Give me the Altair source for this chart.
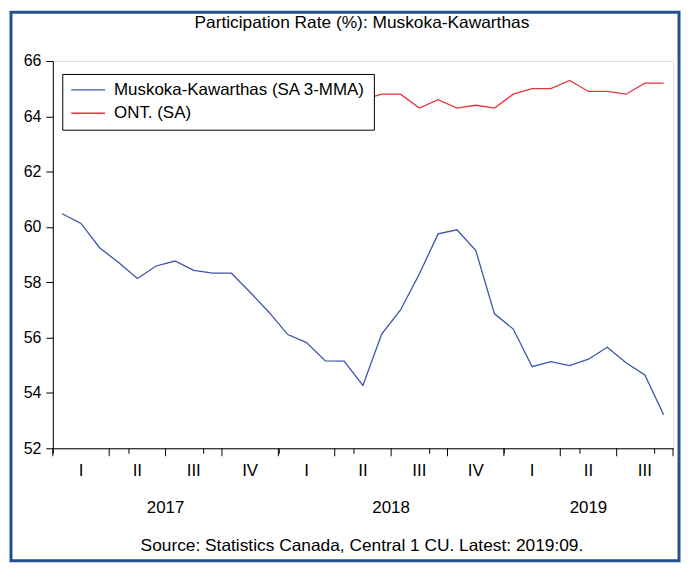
import altair as alt
import pandas as pd

# ---- data ----
months = [f"{y}-{m:02d}" for y in (2017, 2018, 2019) for m in range(1, 13)][:33]
muskoka = [60.48, 60.13, 59.24, 58.72, 58.14, 58.59, 58.77, 58.43, 58.33, 58.33,
           57.64, 56.92, 56.11, 55.82, 55.16, 55.15, 54.27, 56.13, 57.00, 58.30,
           59.75, 59.90, 59.16, 56.86, 56.31, 54.95, 55.13, 54.99, 55.22, 55.65,
           55.09, 54.65, 53.21]
ontario = [64.8, 64.7, 64.8, 64.6, 64.7, 64.6, 64.8, 64.7, 64.6, 64.7,
           64.7, 64.8, 64.6, 64.7, 64.6, 64.6, 64.6, 64.8, 64.8, 64.3,
           64.6, 64.3, 64.4, 64.3, 64.8, 65.0, 65.0, 65.3, 64.9, 64.9,
           64.8, 65.2, 65.2]
series_names = ["Muskoka-Kawarthas (SA 3-MMA)", "ONT. (SA)"]
series_colors = ["#3B55A8", "#E8343C"]
quarter_labels = ["I", "II", "III", "IV", "I", "II", "III", "IV", "I", "II", "III"]
year_labels = ["2017", "2018", "2019"]
year_centers = [6, 18, 28.5]
y_ticks = [52, 54, 56, 58, 60, 62, 64, 66]
title_text = "Participation Rate (%): Muskoka-Kawarthas"
source_text = "Source: Statistics Canada, Central 1 CU. Latest: 2019:09."

FONT = "Liberation Sans"
FS = 17
W, H = 623, 389
PAD = {"left": 45, "top": 52, "right": 10, "bottom": 117}

rows = []
for i, m in enumerate(months):
    rows.append({"month": m, "t": i + 0.5, "value": muskoka[i], "series": series_names[0]})
    rows.append({"month": m, "t": i + 0.5, "value": ontario[i], "series": series_names[1]})
df = pd.DataFrame(rows)

xscale = alt.Scale(domain=[0, len(months)], nice=False, zero=False)
yscale = alt.Scale(domain=[52, 66], nice=False, zero=False)

lines = alt.Chart(df).mark_line(strokeWidth=1.3).encode(
    x=alt.X("t:Q", scale=xscale,
            axis=alt.Axis(values=list(range(0, len(months) + 1)), labels=False, title=None,
                          tickSize=5, tickColor="black", domainColor="black", grid=False)),
    y=alt.Y("value:Q", scale=yscale,
            axis=alt.Axis(values=y_ticks, title=None, tickSize=7, tickColor="black",
                          domainColor="black", grid=False, labelFont=FONT, labelFontSize=16,
                          labelColor="black", labelPadding=5)),
    color=alt.Color("series:N",
                    scale=alt.Scale(domain=series_names, range=series_colors),
                    legend=alt.Legend(title=None, orient="none", legendX=9.5, legendY=13,
                                      symbolType="stroke", symbolSize=1156,
                                      symbolStrokeWidth=1.5, labelFont=FONT,
                                      labelFontSize=FS, labelColor="black",
                                      fillColor="white", strokeColor="black",
                                      padding=8, rowPadding=6.5, labelOffset=8,
                                      clipHeight=16, labelLimit=400)),
    order="t:Q",
)

q_df = pd.DataFrame({"b": list(range(0, len(months) + 1, 3))})
qticks = alt.Chart(q_df).mark_rule(color="black", strokeWidth=1).encode(
    x=alt.X("b:Q", scale=xscale), y=alt.value(H), y2=alt.value(H + 8))

ql_df = pd.DataFrame({"c": [1.5 + 3 * k for k in range(len(quarter_labels))],
                      "lab": quarter_labels})
qlabels = alt.Chart(ql_df).mark_text(font=FONT, fontSize=FS, color="black",
                                     baseline="middle").encode(
    x=alt.X("c:Q", scale=xscale), y=alt.value(412), text="lab:N")

yl_df = pd.DataFrame({"c": year_centers, "lab": year_labels})
ylabels = alt.Chart(yl_df).mark_text(font=FONT, fontSize=FS, color="black",
                                     baseline="middle").encode(
    x=alt.X("c:Q", scale=xscale), y=alt.value(449), text="lab:N")

title = alt.Chart(pd.DataFrame({"s": [title_text]})).mark_text(
    font=FONT, fontSize=17.4, color="black", baseline="alphabetic").encode(
    x=alt.value(W / 2 - 1), y=alt.value(-33), text="s:N")

source = alt.Chart(pd.DataFrame({"s": [source_text]})).mark_text(
    font=FONT, fontSize=17.4, color="black", baseline="middle").encode(
    x=alt.value(W / 2 - 1), y=alt.value(487), text="s:N")

frame = alt.Chart(pd.DataFrame({"k": [0]})).mark_rect(
    fill=None, stroke="#24508F", strokeWidth=3).encode(
    x=alt.value(-42), x2=alt.value(W + PAD["right"] - 4),
    y=alt.value(-49), y2=alt.value(H + PAD["bottom"] - 4))

chart = alt.layer(frame, qticks, lines, qlabels, ylabels, title, source).properties(
    width=W, height=H, padding=PAD,
    autosize=alt.AutoSizeParams(type="none"),
).configure_view(stroke="#333333", strokeWidth=1).configure(background="white")

chart.save("out.html", embed_options={"renderer": "svg", "actions": False})
